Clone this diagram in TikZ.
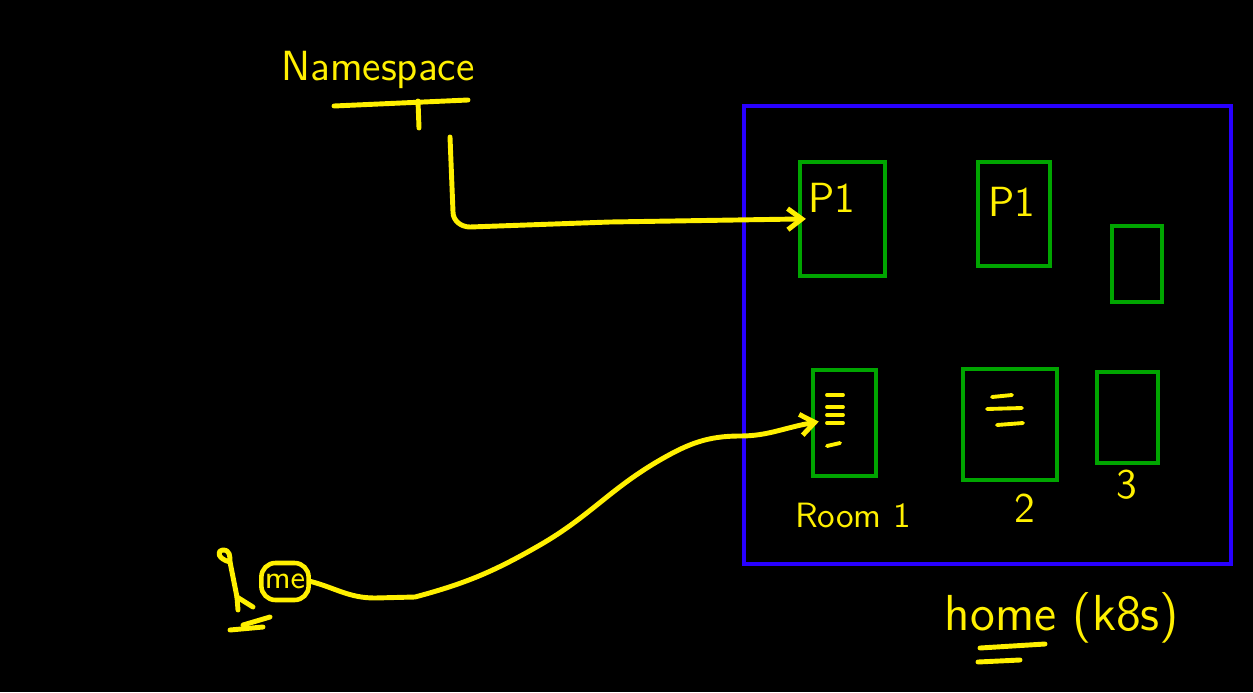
\documentclass[tikz,border=0pt]{standalone}
\usetikzlibrary{arrows.meta}
\definecolor{penyellow}{RGB}{255,240,0}
\definecolor{pengreen}{RGB}{0,165,0}
\definecolor{penblue}{RGB}{40,0,255}
\begin{document}
\begin{tikzpicture}
    [ pen/.style = {draw=penyellow, line width=1.4pt, line cap=round, line join=round},
      cluster-node/.style = {
        shape=rectangle, draw=penblue, line width=1.3pt,
        inner sep=0pt
      },
      room-node/.style = {
        shape=rectangle, draw=pengreen, line width=1.2pt,
        inner sep=0pt
      },
      me-node/.style = {
        shape=rectangle, rounded corners=4pt,
        draw=penyellow, line width=1.3pt, text=penyellow,
        minimum width=0.46cm, minimum height=0.37cm, inner sep=1pt,
        font=\sffamily\small
      },
      txt/.style = {text=penyellow, font=\sffamily\large, inner sep=0pt},
      arrow/.style = {pen, shorten >=-0.08cm, -{Straight Barb[length=4pt,width=6pt]}}]
      % canvas
      \fill[black] (0,0) rectangle (12.53,6.92);
      \useasboundingbox (0,0) rectangle (12.53,6.92);
      % cluster and rooms
      \node [cluster-node, minimum width=4.87cm, minimum height=4.58cm] (home) at (9.875,3.57) {};
      \node [room-node, minimum width=0.85cm, minimum height=1.14cm] (roomA) at (8.425,4.73) {};
      \node [room-node, minimum width=0.72cm, minimum height=1.04cm] (roomB) at (10.14,4.78) {};
      \node [room-node, minimum width=0.50cm, minimum height=0.76cm] (roomC) at (11.37,4.28) {};
      \node [room-node, minimum width=0.63cm, minimum height=1.06cm] (room1) at (8.445,2.69) {};
      \node [room-node, minimum width=0.94cm, minimum height=1.11cm] (room2) at (10.10,2.675) {};
      \node [room-node, minimum width=0.61cm, minimum height=0.91cm] (room3) at (11.275,2.745) {};
      % labels
      \node [txt] (p1a) at (8.32,4.94) {P1};
      \node [txt] (p1b) at (10.12,4.90) {P1};
      \node [txt, font=\sffamily] (room1-lbl) at (8.53,1.77) {Room 1};
      \node [txt] (room2-lbl) at (10.25,1.84) {2};
      \node [txt] (room3-lbl) at (11.27,2.07) {3};
      \node [txt, font=\sffamily\Large] (home-lbl) at (10.62,0.74) {home (k8s)};
      \draw [pen] (9.80,0.44) -- (10.45,0.48);
      \draw [pen] (9.78,0.30) -- (10.20,0.32);
      % scribbles in rooms
      \foreach \y in {2.97,2.85,2.77,2.69}
        \draw [pen, line width=1.1pt] (8.27,\y) -- (8.43,\y);
      \draw [pen, line width=1.1pt] (8.27,2.46) -- (8.40,2.49);
      \draw [pen, line width=1.1pt] (9.92,2.95) -- (10.12,2.97);
      \draw [pen, line width=1.1pt] (9.87,2.83) -- (10.22,2.84);
      \draw [pen, line width=1.1pt] (9.97,2.67) -- (10.23,2.69);
      % namespace
      \node [txt] (ns) at (3.78,6.22) {Namespace};
      \draw [pen] (3.34,5.86) -- (4.68,5.92);
      \draw [pen] (4.18,5.91) -- (4.19,5.64);
      \coordinate (ns-end) at (4.50,5.55);
      \draw [arrow] (ns-end) -- (4.53,4.80) to[out=-90,in=180] (4.70,4.65)
        -- (6.10,4.70) -- (roomA.west);
      % me
      \draw [pen] (2.30,1.30) -- (2.37,0.95);
      \draw [pen] (2.30,1.30) .. controls (2.18,1.33) and (2.16,1.41) .. (2.23,1.42)
        .. controls (2.30,1.42) and (2.30,1.36) .. (2.30,1.30);
      \draw [pen] (2.37,0.95) -- (2.38,0.82);
      \draw [pen] (2.37,0.95) -- (2.53,0.85);
      \draw [pen] (2.43,0.67) -- (2.70,0.75);
      \draw [pen] (2.30,0.62) -- (2.63,0.65);
      \node [me-node] (me) at (2.85,1.105) {me};
      \draw [arrow] (me.east) to[out=-15,in=180] (3.75,0.94) -- (4.15,0.95)
        to[out=15,in=210] (5.40,1.47) to[out=30,in=210] (6.60,2.32)
        to[out=30,in=180] (7.40,2.56) to[out=0,in=190] (room1.west);
  \end{tikzpicture}
\end{document}
